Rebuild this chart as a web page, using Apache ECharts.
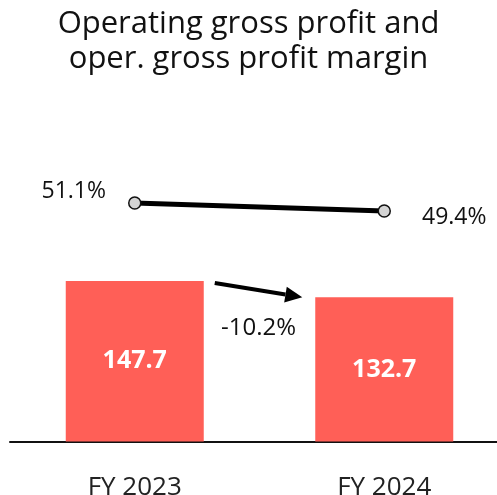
<!DOCTYPE html>
<html>
<head>
<meta charset="utf-8">
<script src="https://cdn.jsdelivr.net/npm/echarts@6/dist/echarts.min.js"></script>
<style>
  html, body { margin: 0; padding: 0; background: #fff; }
  #chart { width: 497px; height: 495px; }
</style>
</head>
<body>
<div id="chart"></div>
<script>
// Fiscal years and values
const categories = ['FY 2023', 'FY 2024'];
const grossProfit = [147.7, 132.7];      // operating gross profit
const grossMargin = [51.1, 49.4];        // operating gross profit margin, %
const changeLabel = '-10.2%';

const FONT = "'Open Sans', sans-serif";
const chart = echarts.init(document.getElementById('chart'));

const option = {
  animation: false,
  backgroundColor: '#ffffff',
  title: {
    text: 'Operating gross profit and\noper. gross profit margin',
    left: 'center',
    top: 2,
    textStyle: {
      fontFamily: FONT,
      fontSize: 31,
      fontWeight: 'normal',
      color: '#111',
      lineHeight: 35
    }
  },
  grid: { left: 10, right: -12, top: 100, bottom: 53.5, outerBoundsMode: 'none', containLabel: false },
  xAxis: {
    type: 'category',
    data: categories,
    axisLine: { lineStyle: { color: '#111', width: 2 } },
    axisTick: { show: false },
    axisLabel: { fontFamily: FONT, fontSize: 26, color: '#222', margin: 33 }
  },
  yAxis: [
    { type: 'value', min: 0, max: 314.3, show: false },
    { type: 'value', min: 0.42, max: 72.99, show: false }
  ],
  series: [
    {
      type: 'bar',
      data: grossProfit,
      barWidth: 138,
      itemStyle: { color: '#FF5F57' },
      label: {
        show: true,
        position: 'inside',
        color: '#fff',
        fontFamily: FONT,
        fontWeight: 'bold',
        fontSize: 25,
        formatter: p => p.value.toFixed(1)
      },
      z: 2
    },
    {
      type: 'line',
      yAxisIndex: 1,
      data: [
        { value: grossMargin[0], label: { position: 'left', distance: 22, offset: [0, -12] } },
        { value: grossMargin[1], label: { position: 'right', distance: 31, offset: [0, 6] } }
      ],
      lineStyle: { color: '#000', width: 5 },
      symbol: 'circle',
      symbolSize: 12,
      itemStyle: { color: '#d4d4d4', borderColor: '#111', borderWidth: 1.5 },
      label: {
        show: true,
        fontFamily: FONT,
        fontSize: 23,
        color: '#111',
        formatter: p => p.value.toFixed(1) + '%'
      },
      z: 3
    }
  ]
};
chart.setOption(option);

// Arrow between the bars, anchored to the bar tops
const halfBar = 69;
const p1 = chart.convertToPixel({ xAxisIndex: 0, yAxisIndex: 0 }, [0, grossProfit[0]]);
const p2 = chart.convertToPixel({ xAxisIndex: 0, yAxisIndex: 0 }, [1, grossProfit[1]]);
const x1 = p1[0] + halfBar + 11, y1 = p1[1] + 2;
const x2 = p2[0] - halfBar - 13, y2 = p2[1];
const ang = Math.atan2(y2 - y1, x2 - x1);
const headLen = 17, headW = 8;
const bx = x2 - headLen * Math.cos(ang), by = y2 - headLen * Math.sin(ang);
const nx = -Math.sin(ang), ny = Math.cos(ang);

chart.setOption({
  graphic: [
    {
      type: 'line',
      shape: { x1: x1, y1: y1, x2: bx, y2: by },
      style: { stroke: '#000', lineWidth: 4 },
      z: 10
    },
    {
      type: 'polygon',
      shape: { points: [[x2, y2], [bx + nx * headW, by + ny * headW], [bx - nx * headW, by - ny * headW]] },
      style: { fill: '#000' },
      z: 10
    },
    {
      type: 'text',
      x: (x1 + x2) / 2,
      y: by + 34,
      style: {
        text: changeLabel,
        fontFamily: FONT,
        fontSize: 24,
        fill: '#111',
        textAlign: 'center',
        textVerticalAlign: 'middle'
      },
      z: 10
    }
  ]
});
</script>
</body>
</html>
